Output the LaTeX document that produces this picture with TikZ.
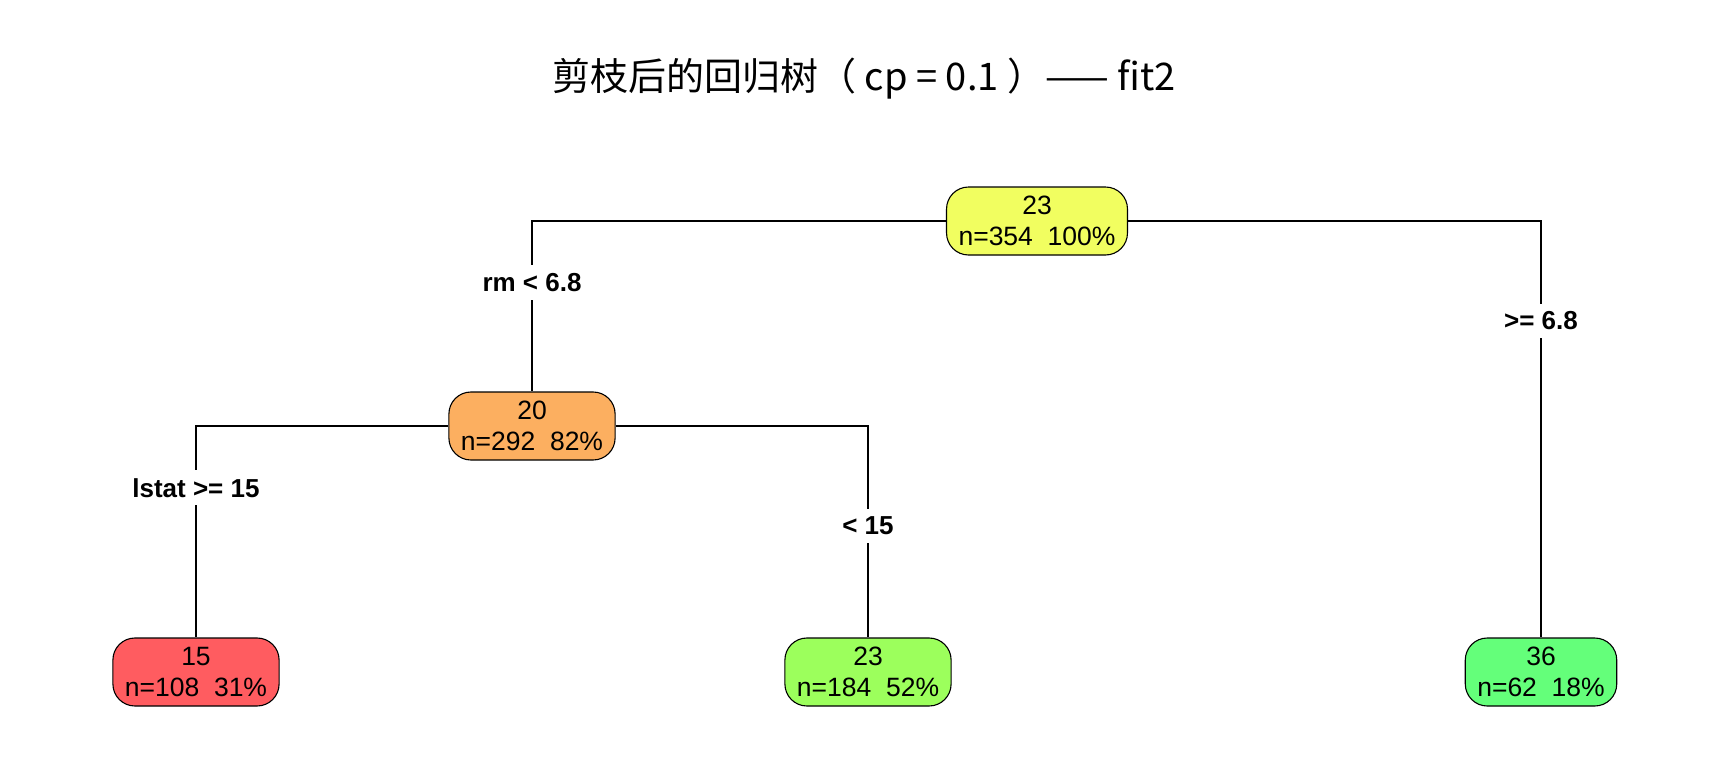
\documentclass[tikz,border=0pt]{standalone}
\usepackage{fontspec}
\setmainfont{Liberation Sans}
\newfontfamily\cjk{Noto Sans CJK SC}
\usepackage{xcolor}
\definecolor{rootfill}{RGB}{241,254,96}
\definecolor{orangefill}{RGB}{252,175,96}
\definecolor{redfill}{RGB}{255,92,96}
\definecolor{limefill}{RGB}{156,255,92}
\definecolor{greenfill}{RGB}{100,255,122}

\begin{document}
\begin{tikzpicture}[x=1pt, y=-1pt, line width=1.1pt,
    box/.style={draw, rounded corners=22pt, inner xsep=12pt, minimum height=68pt,
      align=center, font=\fontsize{26.5}{31}\selectfont},
    split/.style={fill=white, inner xsep=3pt, inner ysep=8pt,
      font=\bfseries\fontsize{26}{30}\selectfont}]
        \useasboundingbox (0,0) rectangle (1728,768);
        % Title
        \node[font=\cjk\fontsize{38}{42}\selectfont] (title) at (864,79) {剪枝后的回归树（ cp = 0.1 ）—— fit2};
        % Nodes
        \foreach \name/\x/\y/\val/\cnt/\pct/\col in {root/1037/221/23/354/100/rootfill,
            n20/532/426/20/292/82/orangefill, l15/196/672/15/108/31/redfill,
            l23/868/672/23/184/52/limefill, l36/1541/672/36/62/18/greenfill} {
          \node[box, fill=\col] (\name) at (\x,\y) {\val\\n=\cnt\ \ \pct\%};
        }
        % Edges
        \draw (root.west) -| node[split, pos=0.68] (srm) {rm < 6.8} (n20.north);
        \draw (root.east) -| node[split, pos=0.62] (srmr) {>= 6.8} (l36.north);
        \draw (n20.west) -| node[split, pos=0.646] (slstat) {lstat >= 15} (l15.north);
        \draw (n20.east) -| node[split, pos=0.736] (slstatr) {< 15} (l23.north);
    \end{tikzpicture}
\end{document}
